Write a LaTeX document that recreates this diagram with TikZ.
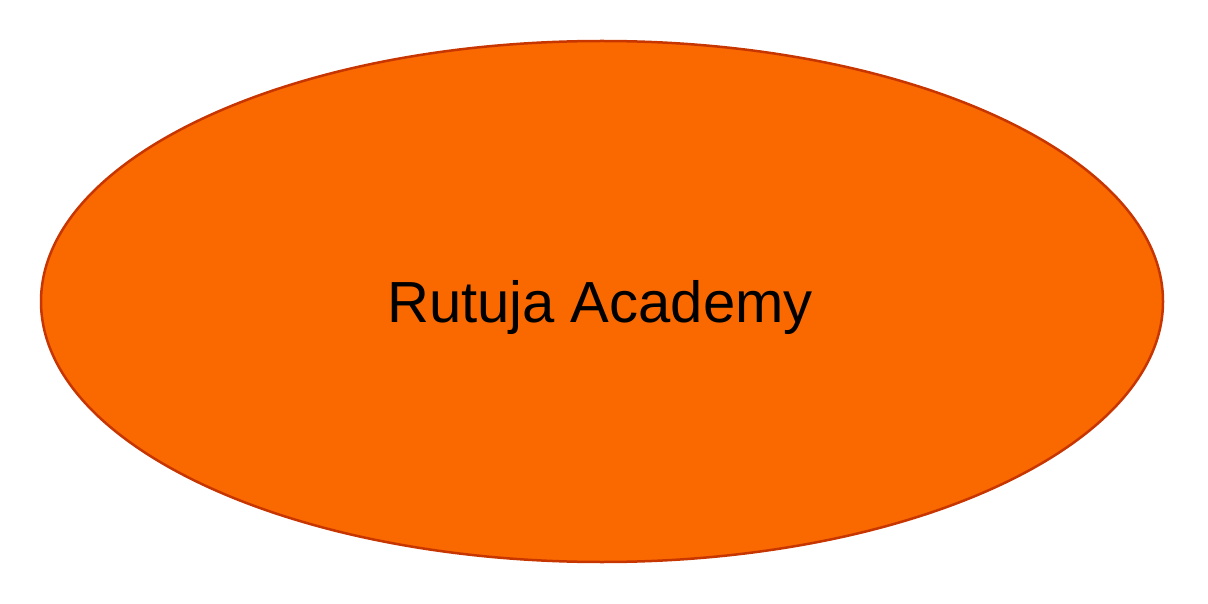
\documentclass[tikz,border=0pt]{standalone}
\usepackage{fontspec}
\setmainfont{Liberation Sans}
\usetikzlibrary{shapes.geometric}
\definecolor{fillorange}{HTML}{FA6800}
\definecolor{edgeorange}{HTML}{C73500}
\tikzset{blob/.style={ellipse, fill=fillorange, draw=edgeorange, line width=2.5pt, minimum width=1122pt, minimum height=521pt, inner sep=0pt},
labeltext/.style={font=\fontsize{58pt}{68pt}\selectfont, text=black}}
\begin{document}
\begin{tikzpicture}[x=1pt,y=-1pt]
\useasboundingbox (0,0) rectangle (1208,604);
\node[blob] (academy) at (602,301.5) {};
\node[labeltext, anchor=base] (lbl) at (600,322) {Rutuja Academy};
\end{tikzpicture}
\end{document}
